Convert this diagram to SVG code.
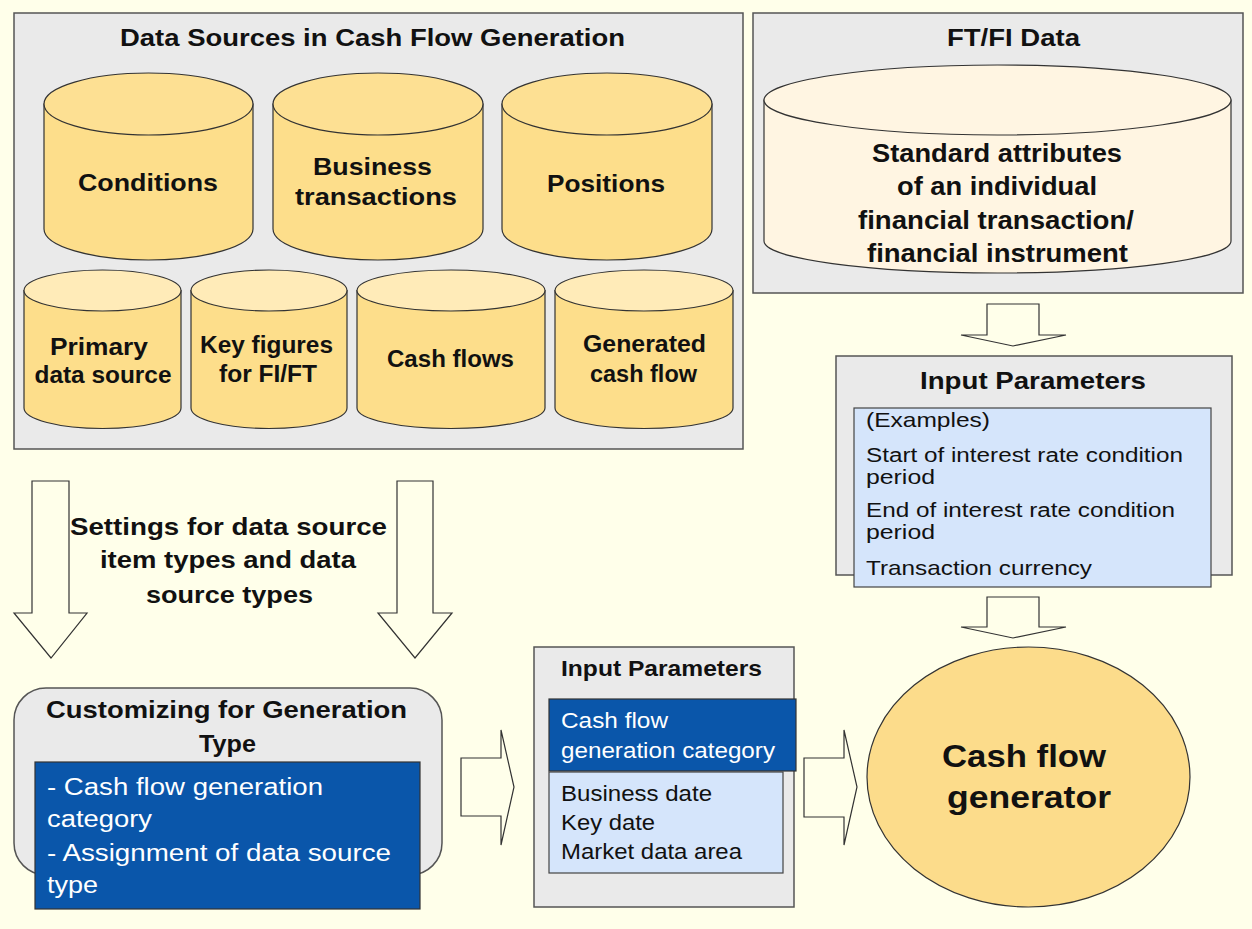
<svg xmlns="http://www.w3.org/2000/svg" width="1252" height="929" viewBox="0 0 1252 929">
<style>
.panel{fill:#EAEAEA;stroke:#555;stroke-width:1.5}
.cyl{fill:#FDDE8B;stroke:#333;stroke-width:1.2}
.cyltop{fill:#FDE093;stroke:#333;stroke-width:1.2}
.cyltop2{fill:#FFEBB8;stroke:#333;stroke-width:1.2}
.cream{fill:#FFF5E2;stroke:#333;stroke-width:1.2}
.arrow{fill:#FFFFEA;stroke:#333;stroke-width:1.2}
.dark{fill:#0A56AA;stroke:#333;stroke-width:1.2}
.light{fill:#D5E5FB;stroke:#444;stroke-width:1.2}
.b{font-family:"Liberation Sans",Arial,sans-serif;font-weight:bold;fill:#111}
.r{font-family:"Liberation Sans",Arial,sans-serif;fill:#111}
.w{font-family:"Liberation Sans",Arial,sans-serif;fill:#fff}
.m{text-anchor:middle}
</style>
<rect x="0" y="0" width="1252" height="929" fill="#FFFFEA"/>

<g id="data-sources">
<rect class="panel" x="14" y="13" width="729" height="436"/>
<text class="b m" x="372.5" y="46" font-size="24" textLength="505" lengthAdjust="spacingAndGlyphs">Data Sources in Cash Flow Generation</text>
</g>

<g id="cyl-conditions">
<path class="cyl" d="M44 104 L44 229 A104.5 31 0 0 0 253 229 L253 104 Z"/>
<ellipse class="cyltop" cx="148.5" cy="104" rx="104.5" ry="31"/>
<text class="b m" x="148" y="191" font-size="24" textLength="140" lengthAdjust="spacingAndGlyphs">Conditions</text>
</g>
<g id="cyl-business">
<path class="cyl" d="M273 104 L273 229 A105 31 0 0 0 483 229 L483 104 Z"/>
<ellipse class="cyltop" cx="378" cy="104" rx="105" ry="31"/>
<text class="b m" x="372.5" y="175" font-size="24" textLength="119" lengthAdjust="spacingAndGlyphs">Business</text>
<text class="b m" x="376" y="205" font-size="24" textLength="162" lengthAdjust="spacingAndGlyphs">transactions</text>
</g>
<g id="cyl-positions">
<path class="cyl" d="M502 104 L502 229 A105 31 0 0 0 712 229 L712 104 Z"/>
<ellipse class="cyltop" cx="607" cy="104" rx="105" ry="31"/>
<text class="b m" x="606" y="192" font-size="24" textLength="118" lengthAdjust="spacingAndGlyphs">Positions</text>
</g>
<g id="cyl-primary">
<path class="cyl" d="M24 290.5 L24 408 A78.5 20.5 0 0 0 181 408 L181 290.5 Z"/>
<ellipse class="cyltop2" cx="102.5" cy="290.5" rx="78.5" ry="20.5"/>
<text class="b m" x="99" y="355" font-size="23" textLength="98" lengthAdjust="spacingAndGlyphs">Primary</text>
<text class="b m" x="103" y="383" font-size="23" textLength="137" lengthAdjust="spacingAndGlyphs">data source</text>
</g>
<g id="cyl-keyfigures">
<path class="cyl" d="M191 290.5 L191 408 A78 20.5 0 0 0 347 408 L347 290.5 Z"/>
<ellipse class="cyltop2" cx="269" cy="290.5" rx="78" ry="20.5"/>
<text class="b m" x="266.5" y="353" font-size="23" textLength="133" lengthAdjust="spacingAndGlyphs">Key figures</text>
<text class="b m" x="268" y="382" font-size="23" textLength="98" lengthAdjust="spacingAndGlyphs">for FI/FT</text>
</g>
<g id="cyl-cashflows">
<path class="cyl" d="M357 290.5 L357 408 A94 20.5 0 0 0 545 408 L545 290.5 Z"/>
<ellipse class="cyltop2" cx="451" cy="290.5" rx="94" ry="20.5"/>
<text class="b m" x="450.5" y="367" font-size="23" textLength="127" lengthAdjust="spacingAndGlyphs">Cash flows</text>
</g>
<g id="cyl-generated">
<path class="cyl" d="M555 290.5 L555 408 A89 20.5 0 0 0 733 408 L733 290.5 Z"/>
<ellipse class="cyltop2" cx="644" cy="290.5" rx="89" ry="20.5"/>
<text class="b m" x="644.5" y="352" font-size="23" textLength="123" lengthAdjust="spacingAndGlyphs">Generated</text>
<text class="b m" x="643.5" y="382" font-size="23" textLength="107" lengthAdjust="spacingAndGlyphs">cash flow</text>
</g>

<g id="ftfi-data">
<rect class="panel" x="753" y="13" width="490" height="280"/>
<text class="b m" x="1013.5" y="46" font-size="24" textLength="133" lengthAdjust="spacingAndGlyphs">FT/FI Data</text>
<path class="cream" d="M764 100 L764 241 A233.5 32 0 0 0 1231 241 L1231 100 Z"/>
<ellipse class="cream" cx="997.5" cy="100" rx="233.5" ry="35"/>
<text class="b m" x="997" y="162" font-size="26" textLength="250" lengthAdjust="spacingAndGlyphs">Standard attributes</text>
<text class="b m" x="997" y="195" font-size="26" textLength="200" lengthAdjust="spacingAndGlyphs">of an individual</text>
<text class="b m" x="996" y="229" font-size="26" textLength="276" lengthAdjust="spacingAndGlyphs">financial transaction/</text>
<text class="b m" x="997.5" y="262" font-size="26" textLength="261" lengthAdjust="spacingAndGlyphs">financial instrument</text>
</g>

<g id="input-params-right">
<rect class="panel" x="836" y="356" width="396" height="219"/>
<text class="b m" x="1033" y="389" font-size="24" textLength="226" lengthAdjust="spacingAndGlyphs">Input Parameters</text>
<rect class="light" x="854" y="408" width="357" height="179"/>
<text class="r" x="866" y="427" font-size="21" textLength="124" lengthAdjust="spacingAndGlyphs">(Examples)</text>
<text class="r" x="866" y="462" font-size="20" textLength="317" lengthAdjust="spacingAndGlyphs">Start of interest rate condition</text>
<text class="r" x="866" y="484" font-size="20" textLength="69" lengthAdjust="spacingAndGlyphs">period</text>
<text class="r" x="866" y="517" font-size="20" textLength="309" lengthAdjust="spacingAndGlyphs">End of interest rate condition</text>
<text class="r" x="866" y="539" font-size="20" textLength="69" lengthAdjust="spacingAndGlyphs">period</text>
<text class="r" x="866" y="575" font-size="21" textLength="226" lengthAdjust="spacingAndGlyphs">Transaction currency</text>
</g>

<g id="customizing">
<rect class="panel" x="14" y="688" width="428" height="187" rx="32" ry="32"/>
<text class="b m" x="226.5" y="718" font-size="24" textLength="361" lengthAdjust="spacingAndGlyphs">Customizing for Generation</text>
<text class="b m" x="227.5" y="752" font-size="24" textLength="57" lengthAdjust="spacingAndGlyphs">Type</text>
<rect class="dark" x="35" y="762" width="385" height="147"/>
<text class="w" x="47" y="795" font-size="23" textLength="276" lengthAdjust="spacingAndGlyphs">- Cash flow generation</text>
<text class="w" x="47" y="827" font-size="23" textLength="105" lengthAdjust="spacingAndGlyphs">category</text>
<text class="w" x="47" y="861" font-size="23" textLength="344" lengthAdjust="spacingAndGlyphs">- Assignment  of data source</text>
<text class="w" x="47" y="893" font-size="23" textLength="51" lengthAdjust="spacingAndGlyphs">type</text>
</g>

<g id="input-params-middle">
<rect class="panel" x="534" y="647" width="260" height="260"/>
<text class="b" x="561" y="676" font-size="22" textLength="201" lengthAdjust="spacingAndGlyphs">Input Parameters</text>
<rect class="dark" x="549" y="699" width="247" height="72"/>
<text class="w" x="561" y="728" font-size="22" textLength="107" lengthAdjust="spacingAndGlyphs">Cash flow</text>
<text class="w" x="561" y="758" font-size="22" textLength="214" lengthAdjust="spacingAndGlyphs">generation category</text>
<rect class="light" x="549" y="772" width="234" height="101"/>
<text class="r" x="561" y="801" font-size="22" textLength="151" lengthAdjust="spacingAndGlyphs">Business date</text>
<text class="r" x="561" y="830" font-size="22" textLength="94" lengthAdjust="spacingAndGlyphs">Key date</text>
<text class="r" x="561" y="859" font-size="22" textLength="181" lengthAdjust="spacingAndGlyphs">Market data area</text>
</g>

<g id="cash-flow-generator">
<ellipse cx="1028.5" cy="777" rx="161.5" ry="130" fill="#FCDC8B" stroke="#333" stroke-width="1.2"/>
<text class="b m" x="1024" y="767" font-size="32" textLength="164" lengthAdjust="spacingAndGlyphs">Cash flow</text>
<text class="b m" x="1029" y="808" font-size="32" textLength="164" lengthAdjust="spacingAndGlyphs">generator</text>
</g>

<g id="connectors">
<polygon class="arrow" points="32,481 69,481 69,613 87,613 51,658 14,613 32,613"/>
<polygon class="arrow" points="397,481 433,481 433,613 452,613 415,658 378,613 397,613"/>
<text class="b m" x="228.5" y="535" font-size="24" textLength="317" lengthAdjust="spacingAndGlyphs">Settings for data source</text>
<text class="b m" x="228" y="568" font-size="24" textLength="256" lengthAdjust="spacingAndGlyphs">item types and data</text>
<text class="b m" x="229.5" y="603" font-size="24" textLength="167" lengthAdjust="spacingAndGlyphs">source types</text>
<polygon class="arrow" points="461,758 501,758 501,730 514,787 501,845 501,816 461,816"/>
<polygon class="arrow" points="804,758 844,758 844,730 857,787 844,845 844,817 804,817"/>
<polygon class="arrow" points="987,304 1039,304 1039,335 1066,335 1013,346 961,335 987,335"/>
<polygon class="arrow" points="987,597 1039,597 1039,627 1066,627 1013,638 961,627 987,627"/>
</g>
</svg>
